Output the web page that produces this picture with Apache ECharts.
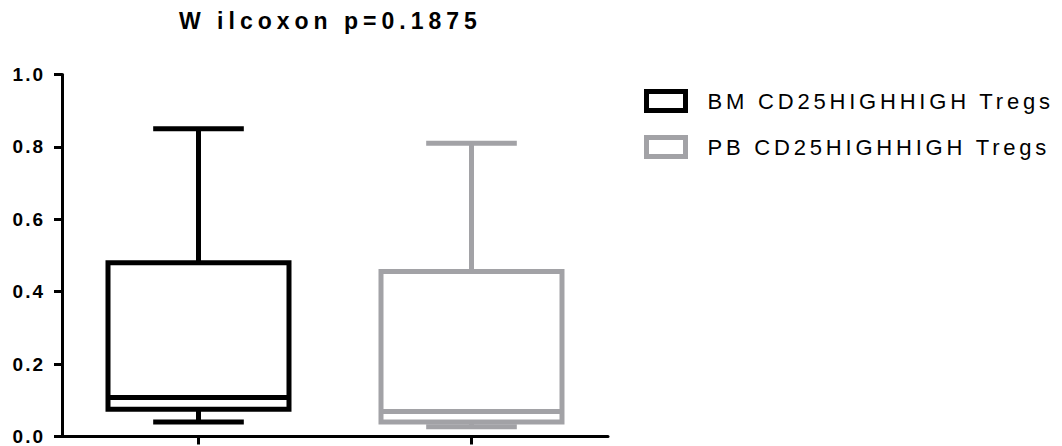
<!DOCTYPE html>
<html>
<head>
<meta charset="utf-8">
<script src="https://cdn.jsdelivr.net/npm/echarts@6/dist/echarts.min.js"></script>
<style>
html, body { margin: 0; padding: 0; background: #ffffff; }
#chart { width: 1062px; height: 446px; }
#chart text[style*="23px"] { letter-spacing: 5px; }
#chart text[style*="22px"] { letter-spacing: 3.8px; }
#chart text[style*="19px"] { letter-spacing: 2px; }
</style>
</head>
<body>
<div id="chart"></div>
<script>
// ---- data ----
const titleText = 'W ilcoxon p=0.1875';
const categories = ['BM CD25HIGHHIGH Tregs', 'PB CD25HIGHHIGH Tregs'];
// [min, Q1, median, Q3, max]
const bmStats = [0.040, 0.075, 0.108, 0.480, 0.850];
const pbStats = [0.027, 0.040, 0.069, 0.456, 0.810];
const yTickLabels = ['0.0', '0.2', '0.4', '0.6', '0.8', '1.0'];
const seriesColors = ['#000000', '#a2a2a6'];

const FONT = "'Liberation Sans', Arial, Helvetica, sans-serif";

function renderBox(params, api) {
  const c = api.value(0);
  const pMin = api.coord([c, api.value(1)]);
  const pQ1 = api.coord([c, api.value(2)]);
  const pMed = api.coord([c, api.value(3)]);
  const pQ3 = api.coord([c, api.value(4)]);
  const pMax = api.coord([c, api.value(5)]);
  const band = api.size([1, 0])[0];
  const half = band * 0.3315;
  const capHalf = band * 0.166;
  const cx = pMed[0];
  const color = api.visual('color');
  const st = (fill) => ({ stroke: color, lineWidth: 5, fill: fill || 'none', lineCap: 'butt', lineJoin: 'miter' });
  return {
    type: 'group',
    children: [
      { type: 'line', shape: { x1: cx, y1: pQ3[1], x2: cx, y2: pMax[1] }, style: st() },
      { type: 'line', shape: { x1: cx - capHalf, y1: pMax[1], x2: cx + capHalf, y2: pMax[1] }, style: st() },
      { type: 'line', shape: { x1: cx, y1: pQ1[1], x2: cx, y2: pMin[1] }, style: st() },
      { type: 'line', shape: { x1: cx - capHalf, y1: pMin[1], x2: cx + capHalf, y2: pMin[1] }, style: st() },
      { type: 'rect', shape: { x: cx - half, y: pQ3[1], width: 2 * half, height: pQ1[1] - pQ3[1] }, style: st('#ffffff') },
      { type: 'line', shape: { x1: cx - half, y1: pMed[1], x2: cx + half, y2: pMed[1] }, style: st() }
    ]
  };
}

const chart = echarts.init(document.getElementById('chart'), null, { renderer: 'svg' });

const option = {
  animation: false,
  backgroundColor: '#ffffff',
  color: seriesColors,
  title: {
    text: titleText,
    left: 179,
    top: 9,
    padding: 0,
    textStyle: { fontFamily: FONT, fontSize: 23, fontWeight: 'bold', color: '#000000' }
  },
  legend: {
    orient: 'vertical',
    left: 644,
    top: 89,
    padding: 0,
    itemWidth: 39,
    itemHeight: 19,
    itemGap: 22,
    selectedMode: false,
    textStyle: { fontFamily: FONT, fontSize: 22, color: '#000000', lineHeight: 20, padding: [0, 0, 0, 17] },
    data: categories.map((name, i) => ({
      name: name,
      icon: 'rect',
      itemStyle: { color: '#ffffff', borderColor: seriesColors[i], borderWidth: 5 }
    }))
  },
  grid: { left: 62, right: 454, top: 74.5, bottom: 9.3, containLabel: false },
  xAxis: {
    type: 'category',
    data: categories,
    boundaryGap: true,
    axisLine: { show: true, lineStyle: { color: '#000000', width: 3 } },
    axisTick: { show: true, alignWithLabel: true, length: 8, lineStyle: { color: '#000000', width: 3 } },
    axisLabel: { show: false },
    splitLine: { show: false }
  },
  yAxis: {
    type: 'value',
    min: 0,
    max: 1,
    interval: 0.2,
    axisLine: { show: true, lineStyle: { color: '#000000', width: 3 } },
    axisTick: { show: true, length: 8, lineStyle: { color: '#000000', width: 3 } },
    axisLabel: {
      show: true,
      margin: 17,
      fontFamily: FONT,
      fontSize: 19,
      fontWeight: 'bold',
      color: '#000000',
      formatter: (v) => yTickLabels[Math.round(v / 0.2)]
    },
    splitLine: { show: false }
  },
  series: [
    {
      name: categories[0],
      type: 'custom',
      renderItem: renderBox,
      encode: { x: 0, y: [1, 2, 3, 4, 5] },
      data: [[0].concat(bmStats)],
      z: 3
    },
    {
      name: categories[1],
      type: 'custom',
      renderItem: renderBox,
      encode: { x: 0, y: [1, 2, 3, 4, 5] },
      data: [[1].concat(pbStats)],
      z: 3
    }
  ]
};

chart.setOption(option);
</script>
</body>
</html>
